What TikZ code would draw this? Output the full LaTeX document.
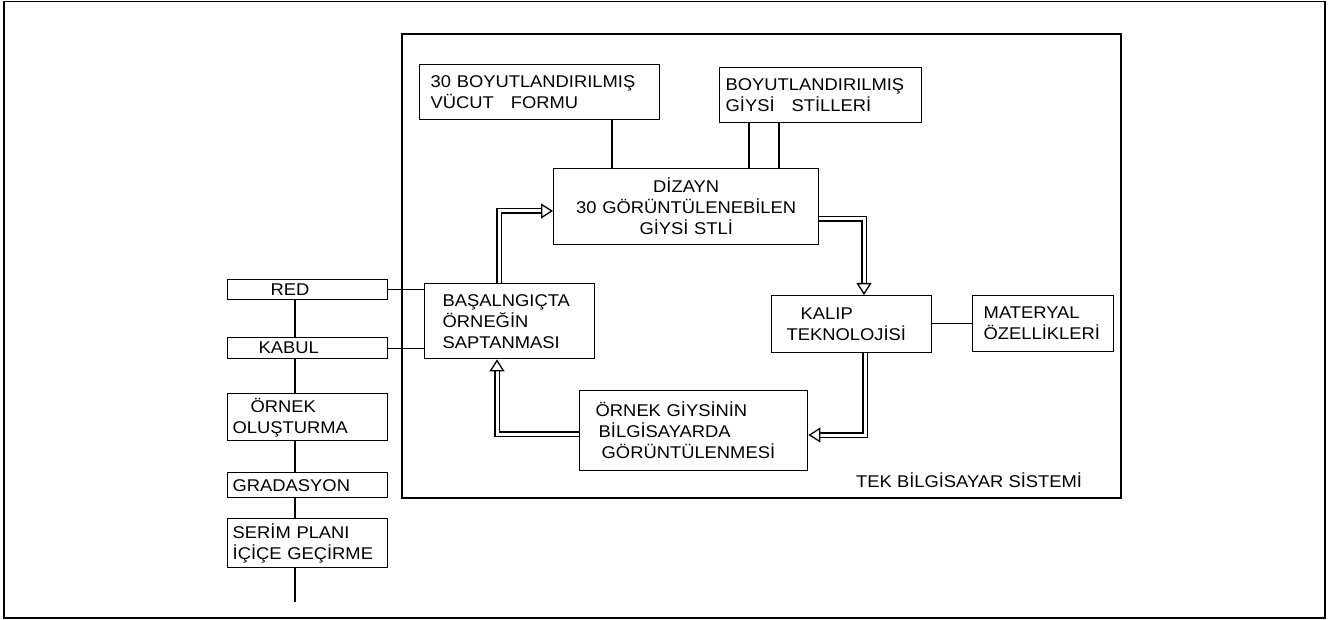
\documentclass[tikz,border=0pt]{standalone}
\usepackage{fontspec}
\newfontfamily\plotfont[FakeStretch=1.08]{Liberation Sans}
\usetikzlibrary{arrows.meta}
\tikzset{
  every node/.style={font=\plotfont\fontsize{17}{21}\selectfont},
  blk/.style={draw, line width=1.4pt, anchor=north west, inner ysep=0pt, align=left},
  conn/.style={line width=1.4pt},
  dbl/.style={line width=1.2pt, double distance=3pt,
    -{Triangle[open, length=12pt, width=15pt, line width=1.3pt]}},
  frame/.style={line width=1.6pt}
}
\begin{document}
\begin{tikzpicture}[x=1pt,y=-1pt]
\useasboundingbox (0,0) rectangle (1333,620);
\draw[frame] (4,1.5) rectangle (1325,618);
\draw[conn] (402,34) rectangle (1121,498);
% top boxes
\node[blk, minimum width=240pt, minimum height=55pt, text width=218pt, inner xsep=11pt] (vucut) at (419,64)
  {30 BOYUTLANDIRILMIŞ\\VÜCUT~~~FORMU};
\node[blk, minimum width=202pt, minimum height=55pt, text width=190pt, inner xsep=6pt] (giysi) at (719,67)
  {BOYUTLANDIRILMIŞ\\GİYSİ~~~STİLLERİ};
\node[blk, align=center, minimum width=265pt, minimum height=76pt, text width=245pt, inner xsep=10pt] (dizayn) at (553,168)
  {DİZAYN\\30 GÖRÜNTÜLENEBİLEN\\GİYSİ STLİ};
\node[blk, minimum width=170pt, minimum height=75pt, text width=134pt, inner xsep=18pt] (basl) at (424,283)
  {BAŞALNGIÇTA\\ÖRNEĞİN\\SAPTANMASI};
\node[blk, minimum width=160pt, minimum height=57pt, text width=130pt, inner xsep=15pt] (kalip) at (771,295)
  {\hspace*{14pt}KALIP\\TEKNOLOJİSİ};
\node[blk, minimum width=141pt, minimum height=56pt, text width=119pt, inner xsep=11pt] (mat) at (972,295)
  {MATERYAL\\ÖZELLİKLERİ};
\node[blk, minimum width=228pt, minimum height=80pt, text width=196pt, inner xsep=16pt] (ornekg) at (579,390)
  {ÖRNEK GİYSİNİN\\\hspace*{3pt}BİLGİSAYARDA\\\hspace*{6pt}GÖRÜNTÜLENMESİ};
\node[anchor=base west, inner sep=0pt] (tek) at (856,487) {TEK BİLGİSAYAR SİSTEMİ};
% left column
\node[blk, minimum width=160pt, minimum height=20pt, text width=150pt, inner xsep=5pt] (red) at (227,279)
  {\hspace*{38pt}RED};
\node[blk, minimum width=160pt, minimum height=21pt, text width=150pt, inner xsep=5pt] (kabul) at (227,337)
  {\hspace*{26pt}KABUL};
\node[blk, minimum width=160pt, minimum height=47pt, text width=150pt, inner xsep=5pt] (olus) at (227,393)
  {\hspace*{18pt}ÖRNEK\\OLUŞTURMA};
\node[blk, minimum width=160pt, minimum height=25pt, text width=150pt, inner xsep=5pt] (grad) at (227,472)
  {GRADASYON};
\node[blk, minimum width=160pt, minimum height=49pt, text width=150pt, inner xsep=5pt] (serim) at (227,518)
  {SERİM PLANI\\İÇİÇE GEÇİRME};
\coordinate (lx) at (295,0);
\coordinate (lend) at (295,602);
\draw[conn] (red.south -| lx) -- (kabul.north -| lx);
\draw[conn] (kabul.south -| lx) -- (olus.north -| lx);
\draw[conn] (olus.south -| lx) -- (grad.north -| lx);
\draw[conn] (grad.south -| lx) -- (serim.north -| lx);
\draw[conn] (serim.south -| lx) -- (lend);
\draw[conn] (red.east) -- (red.east -| basl.west);
\draw[conn] (kabul.east) -- (kabul.east -| basl.west);
% plain connectors
\coordinate (v1) at (612,0);
\coordinate (g1) at (749,0);
\coordinate (g2) at (779,0);
\draw[conn] (vucut.south -| v1) -- (dizayn.north -| v1);
\draw[conn] (giysi.south -| g1) -- (dizayn.north -| g1);
\draw[conn] (giysi.south -| g2) -- (dizayn.north -| g2);
\draw[conn] (kalip.east |- mat.west) -- (mat.west);
% double arrows
\coordinate (a1) at (499,211);
\coordinate (a2) at (864,219);
\coordinate (a3) at (865,435);
\coordinate (a4) at (497,434);
\draw[dbl] (basl.north -| a1) -- (a1) -- (a1 -| dizayn.west);
\draw[dbl] (dizayn.east |- a2) -- (a2) -- (a2 |- kalip.north);
\draw[dbl] (kalip.south -| a3) -- (a3) -- (a3 -| ornekg.east);
\draw[dbl] (ornekg.west |- a4) -- (a4) -- (a4 |- basl.south);
\end{tikzpicture}
\end{document}
